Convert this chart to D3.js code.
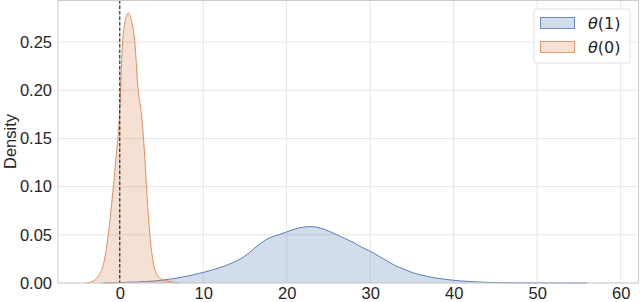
<!DOCTYPE html>
<html><head><meta charset="utf-8">
<script src="https://cdn.jsdelivr.net/npm/d3@7"></script>
<style>body{margin:0;background:#fff;} svg{display:block;font-family:"Liberation Sans",Arial,sans-serif;}</style>
</head><body><svg id="c" width="640" height="302"></svg>
<script>
const xTicks = [0,10,20,30,40,50,60];
const yTicks = [0.00,0.05,0.10,0.15,0.20,0.25];
const seriesNames = ["θ(1)","θ(0)"];
// θ(1) density curve
const t1X = [-2,0,2,4,6,8,10,12,14,15,16,17,18,19,20,21,22,23,24,25,26,27,28,29,30,31,32,33,34,35,36,37,38,39,40,42,44,46,50,56];
const t1Y = [0,0.0005,0.001,0.002,0.004,0.007,0.011,0.016,0.023,0.028,0.035,0.042,0.047,0.050,0.053,0.056,0.058,0.0585,0.057,0.054,0.050,0.046,0.042,0.037,0.033,0.028,0.023,0.018,0.0145,0.011,0.0085,0.0065,0.005,0.0038,0.0028,0.0015,0.0007,0.0003,0.0001,0];
// θ(0) density curve
const t0X = [-4,-3.5,-3,-2.5,-2,-1.5,-1,-0.5,0,0.3,0.6,1,1.4,1.8,2.2,2.6,3,3.2,3.6,4,4.5,5,6,7];
const t0Y = [0,0.001,0.003,0.008,0.018,0.042,0.08,0.125,0.18,0.245,0.27,0.28,0.272,0.25,0.2,0.175,0.13,0.10,0.05,0.022,0.008,0.004,0.0015,0];

const svg = d3.select("#c");
const m = {l:58,r:1,t:0,b:19};
const W = 640, H = 302;
const x = d3.scaleLinear().domain([-7.4,62.2]).range([m.l, W-m.r]);
const y = d3.scaleLinear().domain([0,0.2936]).range([H-m.b, m.t]);
const FS = 16.5;

// grid
const g = svg.append("g");
g.selectAll(".gx").data(xTicks).join("line").attr("x1",d=>x(d)).attr("x2",d=>x(d)).attr("y1",y(0)).attr("y2",m.t).attr("stroke","#e6e6e6").attr("stroke-width",1);
g.selectAll(".gy").data(yTicks).join("line").attr("y1",d=>y(d)).attr("y2",d=>y(d)).attr("x1",m.l).attr("x2",W-m.r).attr("stroke","#e6e6e6").attr("stroke-width",1);

const colors = ["#4c72b0","#dd8452"];
const series = [t1X.map((v,i)=>[v,t1Y[i]]), t0X.map((v,i)=>[v,t0Y[i]])];
const area = d3.area().x(d=>x(d[0])).y0(y(0)).y1(d=>y(d[1])).curve(d3.curveMonotoneX);
const line = d3.line().x(d=>x(d[0])).y(d=>y(d[1])).curve(d3.curveMonotoneX);
series.forEach((s,i)=>{
  svg.append("path").attr("d",area(s)).attr("fill",colors[i]).attr("fill-opacity",0.25);
  svg.append("path").attr("d",line(s)).attr("fill","none").attr("stroke",colors[i]).attr("stroke-width",1).attr("stroke-opacity",0.9);
});

// dashed line at 0
svg.append("line").attr("x1",x(0)).attr("x2",x(0)).attr("y1",m.t).attr("y2",y(0)).attr("stroke","#222").attr("stroke-width",1.1).attr("stroke-dasharray","3.5,2");

// spines
svg.append("rect").attr("x",m.l).attr("y",m.t+0.5).attr("width",W-m.r-m.l-0.5).attr("height",y(0)-m.t-0.5).attr("fill","none").attr("stroke","#cccccc").attr("stroke-width",1);

// axes
const xa = svg.append("g").attr("transform",`translate(0,${y(0)})`).call(d3.axisBottom(x).tickValues(xTicks).tickSize(0).tickPadding(4).tickFormat(d3.format("d")));
const ya = svg.append("g").attr("transform",`translate(${m.l},0)`).call(d3.axisLeft(y).tickValues(yTicks).tickSize(0).tickPadding(6).tickFormat(d3.format(".2f")));
[xa,ya].forEach(a=>{a.select(".domain").remove(); a.selectAll("text").attr("font-size",FS).attr("fill","#262626").attr("font-family","'Liberation Sans',Arial,sans-serif");});

svg.append("text").attr("transform",`translate(16,${(y(0)+m.t)/2}) rotate(-90)`).attr("text-anchor","middle").attr("font-size",FS).attr("fill","#262626").text("Density");

// legend
const lg = svg.append("g");
lg.append("rect").attr("x",534).attr("y",9).attr("width",96).attr("height",54).attr("rx",3).attr("fill","#fff").attr("fill-opacity",0.85).attr("stroke","#e0e0e0");
seriesNames.forEach((n,i)=>{
  const yy = 17 + i*24;
  lg.append("rect").attr("x",540.5).attr("y",yy+0.5).attr("width",34).attr("height",11).attr("fill",colors[i]).attr("fill-opacity",0.25).attr("stroke",colors[i]).attr("stroke-opacity",0.8);
  lg.append("text").attr("x",588).attr("y",yy+11.5).attr("font-size",16).attr("fill","#262626").attr("font-family","'DejaVu Sans',sans-serif")
    .html(`<tspan font-style="italic">θ</tspan>(${i===0?1:0})`);
});
</script></body></html>
